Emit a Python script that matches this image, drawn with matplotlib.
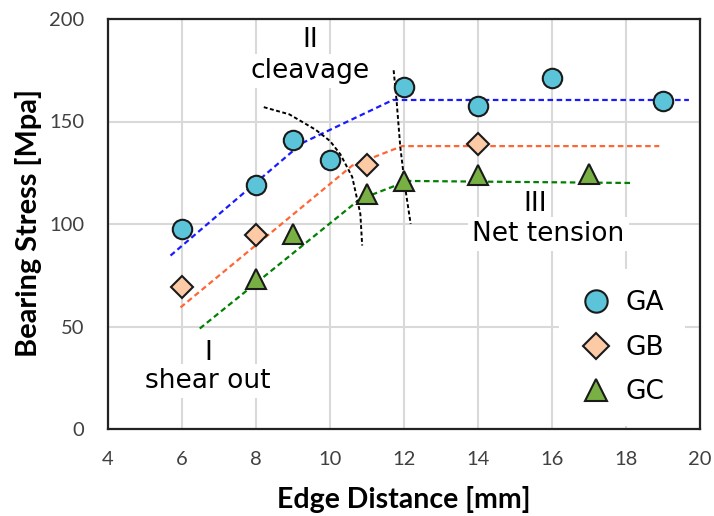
import matplotlib
matplotlib.use("Agg")
import matplotlib.pyplot as plt

# Data
ga_x = [6, 8, 9, 10, 12, 14, 16, 19]
ga_y = [97.6, 119.2, 140.8, 131, 166.6, 157.5, 171, 160]
gb_x = [6, 8, 11, 14]
gb_y = [69.5, 94.4, 129, 139]
gc_x = [8, 9, 11, 12, 14, 17]
gc_y = [73.2, 95.2, 114.8, 121, 123.7, 124.5]

# trend lines
ga_fit_x = [5.69, 9.25, 11.7, 19.7]
ga_fit_y = [84.6, 139.5, 160.5, 160.5]
gb_fit_x = [5.96, 10.6, 11.95, 18.9]
gb_fit_y = [59.3, 128.5, 138, 138]
gc_fit_x = [6.48, 10.8, 12.1, 18.2]
gc_fit_y = [49, 112, 121, 120]

# failure-mode boundaries
b1_x = [8.21, 8.9, 9.61, 10.0, 10.28, 10.6, 10.82, 10.87]
b1_y = [157, 153.5, 146, 140.5, 134, 123, 105, 89.5]
b2_x = [11.72, 11.8, 11.9, 12.03, 12.18]
b2_y = [175, 160, 137.5, 118, 100]

xticks = [4, 6, 8, 10, 12, 14, 16, 18, 20]
yticks = [0, 50, 100, 150, 200]

fig = plt.figure(figsize=(7.14, 5.16), dpi=100)
ax = fig.add_axes([108/714, 1-429/516, (700-108)/714, (429-19)/516])

ax.set_xlim(4, 20)
ax.set_ylim(0, 200)
ax.set_xticks(xticks)
ax.set_yticks(yticks)
ax.grid(True, color="#d9d9d9", linewidth=1.5, zorder=0)
ax.set_axisbelow(True)
ax.tick_params(length=0, labelsize=14.5, labelcolor="#404040")
ax.tick_params(axis="x", pad=16)
ax.tick_params(axis="y", pad=17)
for lab in ax.get_xticklabels() + ax.get_yticklabels():
    lab.set_fontfamily("Lato")
for sp in ax.spines.values():
    sp.set_linewidth(1.6)
    sp.set_color("#222222")

ax.set_xlabel("Edge Distance [mm]", fontsize=20.5, fontweight="bold", family="Lato")
ax.set_ylabel("Bearing Stress [Mpa]", fontsize=20.8, fontweight="bold", family="Lato")
ax.xaxis.set_label_coords(0.499, -0.138)
ax.yaxis.set_label_coords(-0.111, 0.503)

bbox = dict(facecolor="white", edgecolor="none", pad=3)
fs = 19
ax.text(9.47, 190, "II", ha="center", va="center", fontsize=fs, bbox=bbox, zorder=2)
ax.text(9.47, 174.5, "cleavage", ha="center", va="center", fontsize=fs, bbox=bbox, zorder=2)
ax.text(15.55, 110, "III", ha="center", va="center", fontsize=fs, bbox=bbox, zorder=2)
ax.text(15.9, 95, "Net tension", ha="center", va="center", fontsize=fs, bbox=bbox, zorder=2)
ax.text(6.72, 37, "I", ha="center", va="center", fontsize=fs, bbox=bbox, zorder=2)
ax.text(6.7, 23.5, "shear out", ha="center", va="center", fontsize=fs, bbox=bbox, zorder=2)

ls = (0, (2.5, 1.6))
ax.plot(ga_fit_x, ga_fit_y, color="#1a1aff", linestyle=ls, linewidth=1.6, zorder=3)
ax.plot(gb_fit_x, gb_fit_y, color="#ff6633", linestyle=ls, linewidth=1.6, zorder=3)
ax.plot(gc_fit_x, gc_fit_y, color="#008000", linestyle=ls, linewidth=1.6, zorder=3)
ax.plot(b1_x, b1_y, color="black", linestyle=(0, (2, 1.3)), linewidth=1.4, zorder=3)
ax.plot(b2_x, b2_y, color="black", linestyle=(0, (2, 1.3)), linewidth=1.4, zorder=3)

ax.plot(ga_x, ga_y, "o", ms=14, mfc="#5bc4d8", mec="#1a1a1a", mew=1.5, label="GA", zorder=4)
ax.plot(gb_x, gb_y, "D", ms=11.5, mfc="#fdcaa6", mec="#1a1a1a", mew=1.5, label="GB", zorder=4)
ax.plot(gc_x, gc_y, "^", ms=14, mfc="#78b043", mec="#1a1a1a", mew=1.5, label="GC", zorder=4)

leg = ax.legend(loc="lower right", bbox_to_anchor=(1 - 12/592, 0.0), fontsize=19,
                frameon=True, framealpha=1, edgecolor="none",
                facecolor="white", borderpad=0.8, labelspacing=0.7, handletextpad=0.5,
                handlelength=1.2, fancybox=False, borderaxespad=0.1, markerscale=1.15)
leg.set_zorder(5)

fig.savefig("out.png", dpi=100)
